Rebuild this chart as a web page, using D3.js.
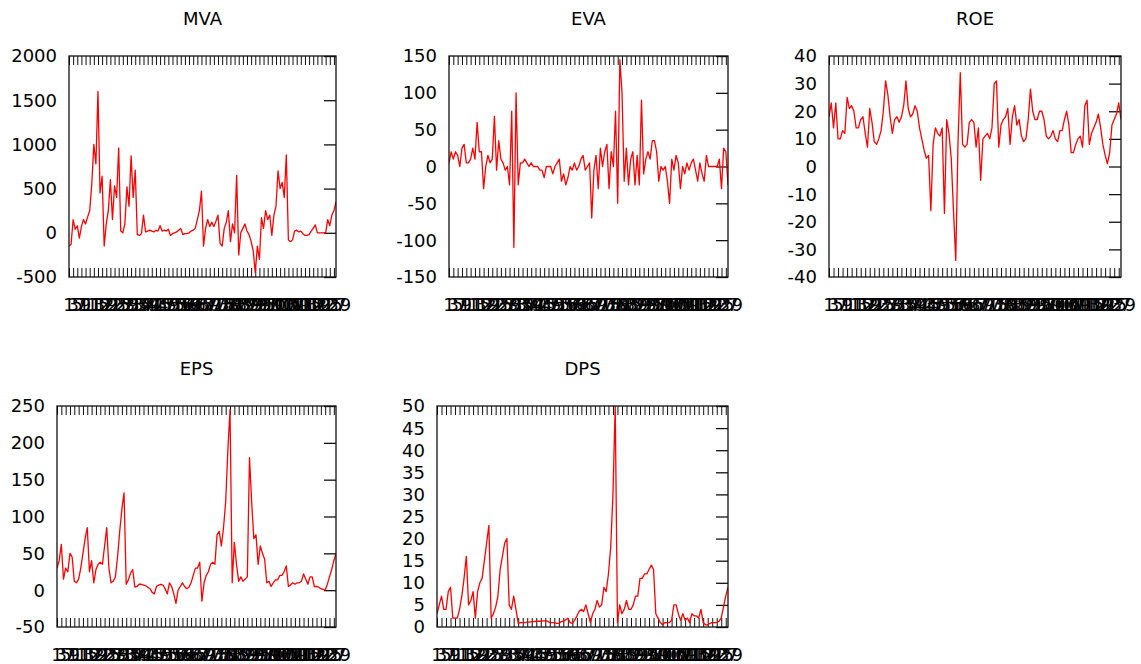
<!DOCTYPE html>
<html>
<head>
<meta charset="utf-8">
<script src="https://cdnjs.cloudflare.com/ajax/libs/d3/7.8.5/d3.min.js"></script>
<style>
  body { margin: 0; background: #fff; }
  svg text { font-family: "DejaVu Sans", Verdana, sans-serif; fill: #000; }
</style>
</head>
<body>
<div id="chart"></div>
<script>
/* DATA */
const titles = ["MVA", "EVA", "ROE", "EPS", "DPS"];

const mva = [-150,-130,150,40,80,-60,70,150,100,180,250,550,1000,780,1600,450,640,-150,100,250,
  600,150,530,400,960,20,0,100,520,300,870,400,710,-20,-30,-10,200,10,20,30,
  20,10,30,20,80,20,30,20,40,-30,-10,0,10,30,50,-20,-10,-10,0,20,
  30,50,150,250,470,-150,50,150,70,120,70,130,200,-120,-150,50,120,250,-100,100,
  0,650,-250,0,50,100,20,-20,-100,-200,-450,-150,-300,170,50,250,150,200,-30,200,
  300,700,500,570,400,880,-80,-100,-80,20,30,10,20,-10,-30,-30,-20,20,50,90,
  0,0,0,0,0,150,80,200,250,350];

const eva = [5,20,10,20,15,0,25,30,5,5,10,25,10,60,20,20,-30,0,15,5,
  10,68,-5,35,10,5,-5,0,-25,75,-110,100,-25,5,5,10,5,0,5,0,
  0,0,-5,-5,-15,0,0,0,-10,0,5,10,-20,-10,-25,-15,0,-5,5,-5,
  0,10,15,-5,0,5,-70,-5,15,-30,25,0,20,30,-30,20,0,75,-50,145,
  100,-20,25,-25,10,20,-25,15,-25,90,-10,10,20,10,35,35,20,-20,0,-5,
  0,-20,-50,10,-5,15,5,-30,0,-10,5,-5,5,10,-5,-20,5,-10,-20,15,
  0,0,0,0,0,10,-30,25,20,-25];

const roe = [18,23,14,23,10,10,13,12,25,21,22,20,14,14,17,18,12,7,21,16,
  9,8,10,13,20,31,26,18,12,17,18,16,18,22,31,21,18,19,22,20,
  14,10,6,3,4,-16,8,14,12,11,14,-17,17,12,3,-16,-34,9,34,8,
  7,8,16,17,16,7,14,-5,10,11,12,10,14,30,31,7,15,17,18,21,
  8,18,22,15,17,11,9,10,17,28,20,17,17,20,20,17,11,10,11,13,
  10,9,13,13,17,20,15,5,5,8,10,11,7,22,24,8,12,14,16,19,
  14,8,4,1,5,15,17,19,23,17];

const eps = [30,40,62,15,30,25,50,45,12,10,15,30,50,70,85,25,40,10,28,35,
  38,35,60,85,30,10,12,18,45,80,110,132,8,14,23,28,4,5,8,8,
  7,6,4,2,-3,-5,5,7,8,7,2,-5,10,5,-5,-18,0,5,10,5,
  2,4,10,20,30,30,38,-15,10,20,25,35,38,35,75,80,60,85,120,190,
  245,10,65,35,12,18,12,15,18,180,120,70,75,35,60,50,42,10,12,5,
  10,14,14,20,20,25,33,5,7,10,8,10,10,12,22,15,8,18,18,5,
  5,4,2,1,0,8,18,28,40,50];

const dps = [3,5,7,4,4,8,9,2,2,2,4,7,11,16,5,6,8,2,8,10,
  11,15,19,23,2,3,4.5,7,13,16,19,20,5,4,7,4,0.8,1,1,1,
  1.1,1.1,1.2,1.2,1.3,1.3,1.3,1.4,1.4,1.3,1,1,1,0.8,0.8,1.2,1.3,1.6,2,1,
  0.8,1.5,2.5,3.5,4,3.5,5,3,1,3,4,6,4.5,5,9,8,12,18,30,50,
  1,5,3,4,6,4,4,5,7,7,11,11,12,12,13,14,13,3,2,1,
  0.5,1,1,1,1.5,5,5,3,1.5,3,1.5,2,1,3,2.5,2.5,2,4,1,0.5,
  0.5,0.8,1,1,1,1.3,2,4.5,7,9];

const mvaTicks = [-500, 0, 500, 1000, 1500, 2000];
const evaTicks = [-150, -100, -50, 0, 50, 100, 150];
const roeTicks = [-40, -30, -20, -10, 0, 10, 20, 30, 40];
const epsTicks = [-50, 0, 50, 100, 150, 200, 250];
const dpsTicks = [0, 5, 10, 15, 20, 25, 30, 35, 40, 45, 50];

// one x tick every second row, labelled with the row number
const xTickRows = d3.range(0, mva.length, 2);
const xTickLabels = xTickRows.map(r => String(r + 1));

/* LAYOUT */
const width = 1141, height = 664;
const panels = [
  { title: titles[0], values: mva, ticks: mvaTicks, left: 69,  right: 336,  top: 56,  bottom: 277 },
  { title: titles[1], values: eva, ticks: evaTicks, left: 449, right: 728,  top: 56,  bottom: 277 },
  { title: titles[2], values: roe, ticks: roeTicks, left: 829, right: 1121, top: 56,  bottom: 277 },
  { title: titles[3], values: eps, ticks: epsTicks, left: 57,  right: 336,  top: 406, bottom: 627 },
  { title: titles[4], values: dps, ticks: dpsTicks, left: 437, right: 728,  top: 406, bottom: 627 }
];

const svg = d3.select("#chart").append("svg")
  .attr("width", width)
  .attr("height", height);

panels.forEach((p, k) => {
  const g = svg.append("g");

  const xScale = d3.scaleLinear()
    .domain([0, p.values.length - 1])
    .range([p.left, p.right]);

  const yScale = d3.scaleLinear()
    .domain(d3.extent(p.ticks))
    .range([p.bottom, p.top]);

  // title
  g.append("text")
    .attr("x", (p.left + p.right) / 2)
    .attr("y", p.top - 31)
    .attr("text-anchor", "middle")
    .attr("font-size", 18)
    .text(p.title);

  // y axis: labels on the left, ticks only on the right side pointing in
  const yAxis = d3.axisRight(yScale)
    .tickValues(p.ticks)
    .tickSize(-12)
    .tickFormat("");
  g.append("g")
    .attr("transform", `translate(${p.right},0)`)
    .call(yAxis)
    .call(a => a.select(".domain").remove())
    .call(a => a.selectAll("line").attr("stroke", "#111").attr("stroke-width", 1.3));

  g.selectAll("text.ylab")
    .data(p.ticks)
    .join("text")
    .attr("class", "ylab")
    .attr("x", p.left - 12)
    .attr("y", d => yScale(d))
    .attr("dy", "0.36em")
    .attr("text-anchor", "end")
    .attr("font-size", 18)
    .text(d => d);

  // x axis ticks, top and bottom, pointing in
  const xBottom = d3.axisBottom(xScale).tickValues(xTickRows).tickSize(-9).tickFormat("");
  const xTop = d3.axisTop(xScale).tickValues(xTickRows).tickSize(-9).tickFormat("");
  g.append("g")
    .attr("transform", `translate(0,${p.bottom})`)
    .call(xBottom)
    .call(a => a.select(".domain").remove())
    .call(a => a.selectAll("line").attr("stroke", "#111"));
  g.append("g")
    .attr("transform", `translate(0,${p.top})`)
    .call(xTop)
    .call(a => a.select(".domain").remove())
    .call(a => a.selectAll("line").attr("stroke", "#111"));

  // overlapping row labels
  g.selectAll("text.xlab")
    .data(xTickRows)
    .join("text")
    .attr("class", "xlab")
    .attr("x", d => xScale(d))
    .attr("y", p.bottom + 34)
    .attr("text-anchor", "middle")
    .attr("font-size", 18)
    .text((d, i) => xTickLabels[i]);

  // clip + line
  const clipId = "clip" + k;
  svg.append("clipPath").attr("id", clipId)
    .append("rect")
    .attr("x", p.left).attr("y", p.top)
    .attr("width", p.right - p.left).attr("height", p.bottom - p.top);

  const lineGen = d3.line()
    .x((d, i) => xScale(i))
    .y(d => yScale(d));

  g.append("path")
    .datum(p.values)
    .attr("clip-path", `url(#${clipId})`)
    .attr("fill", "none")
    .attr("stroke", "#ff0000")
    .attr("stroke-width", 1.3)
    .attr("stroke-linejoin", "round")
    .attr("d", lineGen);

  // frame
  g.append("rect")
    .attr("x", p.left).attr("y", p.top)
    .attr("width", p.right - p.left).attr("height", p.bottom - p.top)
    .attr("fill", "none")
    .attr("stroke", "#111")
    .attr("stroke-width", 1.3);
});
</script>
</body>
</html>
